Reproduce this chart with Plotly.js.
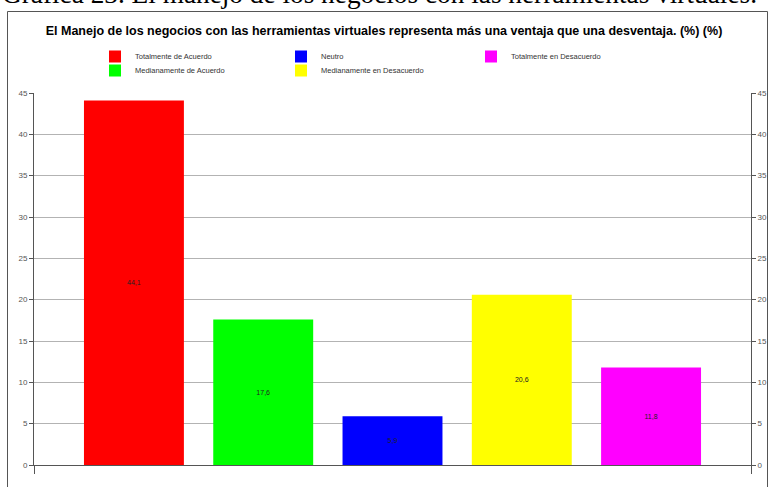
<!DOCTYPE html>
<html><head><meta charset="utf-8">
<script src="https://cdn.plot.ly/plotly-3.0.1.min.js"></script>
<style>html,body{margin:0;padding:0;background:#fff;}#chart{width:768px;height:487px;}</style>
</head><body><div id="chart"></div>
<script>
const categories = ["Totalmente de Acuerdo","Medianamente de Acuerdo","Neutro","Medianamente en Desacuerdo","Totalmente en Desacuerdo"];
const values = [44.1, 17.6, 5.9, 20.6, 11.8];
const colors = ["#ff0000","#00ff00","#0000ff","#ffff00","#ff00ff"];
const yTicks = [0,5,10,15,20,25,30,35,40,45];
const chartTitle = "El Manejo de los negocios con las herramientas virtuales representa más una ventaja que una desventaja. (%) (%)";
const caption = "Gráfica 23. El manejo de los negocios con las herramientas virtuales.";

const L = 34, R = 17, T = 93, B = 22, W = 768, H = 487;
const pw = W - L - R, ph = H - T - B;
const px = v => (v - L) / pw;
const py = v => (H - B - v) / ph;
const bw = 0.773;

// legend slot (column, row) for each category, as in the reference
const legendCol = [0, 0, 1, 1, 2];
const legendRow = [0, 1, 0, 1, 0];
const colX = [95, 281, 471];
const rowY = [42, 56];

const traces = categories.map((c, i) => ({
  type: "bar", name: c, x: [c], y: [values[i]],
  width: bw,
  marker: {color: colors[i], line: {width: 0}},
  text: [values[i].toFixed(1).replace(".", ",")],
  textposition: "inside", insidetextanchor: "middle",
  textfont: {family: "Liberation Sans", size: 7, color: "#222"},
  legend: i === 0 ? "legend" : "legend" + (i + 1),
  hoverinfo: "skip"
}));
traces.push({
  type: "bar", x: categories, y: values, yaxis: "y2", width: bw,
  marker: {color: "rgba(0,0,0,0)"}, showlegend: false, hoverinfo: "skip"
});

const yax = {
  range: [0, 45], tickvals: yTicks, ticks: "outside", ticklen: 4,
  tickcolor: "#555", showline: true, linecolor: "#555", linewidth: 1,
  tickfont: {family: "Liberation Sans", size: 8, color: "#555"},
  zeroline: false, fixedrange: true
};

const layout = {
  width: W, height: H,
  margin: {l: L, r: R, t: T, b: B, pad: 0},
  paper_bgcolor: "#fff", plot_bgcolor: "#fff",
  barmode: "overlay", showlegend: true,
  title: {text: "<b>" + chartTitle + "</b>", x: 0.5, xanchor: "center", y: 1 - 31/H, yanchor: "middle",
    font: {family: "Liberation Sans", size: 12.5, color: "#000"}},
  xaxis: {type: "category", categoryarray: categories, range: [-bw, 4 + bw],
    showticklabels: false, tickvals: [-bw, 4 + bw], ticks: "outside", ticklen: 8, tickcolor: "#555",
    showline: true, linecolor: "#555", showgrid: false, zeroline: false, fixedrange: true},
  yaxis: Object.assign({}, yax, {side: "left", showgrid: true, gridcolor: "#b3b3b3", gridwidth: 1}),
  yaxis2: Object.assign({}, yax, {side: "right", overlaying: "y", showgrid: false}),
  shapes: [{type: "rect", xref: "paper", yref: "paper", x0: px(7.5), x1: px(767.5), y0: py(490), y1: py(11.5),
    line: {color: "#555", width: 1}, fillcolor: "rgba(0,0,0,0)", layer: "below"}],
  annotations: [{text: caption, xref: "paper", yref: "paper", x: px(0), xanchor: "left", y: py(11), yanchor: "bottom",
    showarrow: false, font: {family: "Liberation Serif", size: 27.3, color: "#000"}}]
};

categories.forEach((c, i) => {
  const key = i === 0 ? "legend" : "legend" + (i + 1);
  layout[key] = {
    orientation: "v", x: px(colX[legendCol[i]]), xanchor: "left",
    y: py(rowY[legendRow[i]]), yanchor: "top",
    font: {family: "Liberation Sans", size: 7.5, color: "#333"},
    bgcolor: "rgba(0,0,0,0)", borderwidth: 0
  };
});

Plotly.newPlot("chart", traces, layout, {displayModeBar: false, staticPlot: true});
</script></body></html>
